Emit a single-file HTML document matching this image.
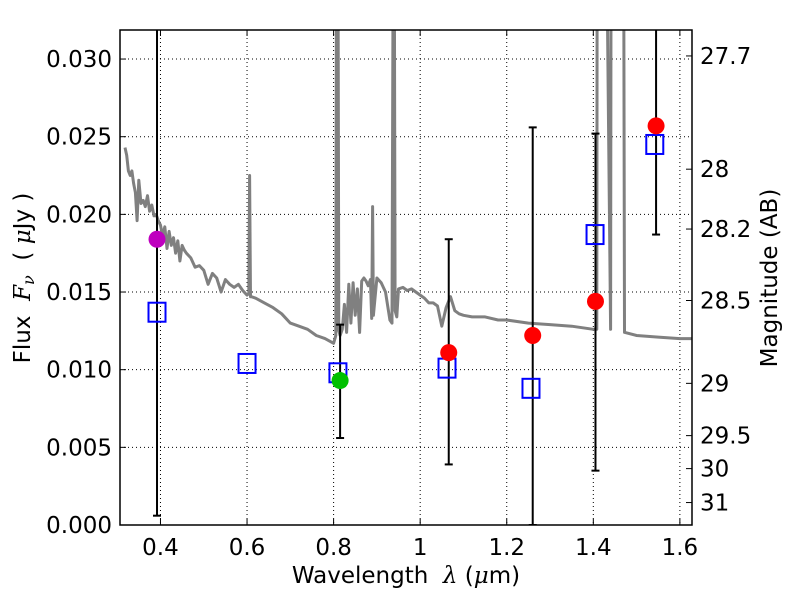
<!DOCTYPE html>
<html><head><meta charset="utf-8"><style>
body{margin:0;background:#fff;}
svg{display:block;font-family:"DejaVu Sans","Liberation Sans",sans-serif;}
</style></head><body>
<svg id="chart" width="800" height="600"></svg>
<script>
const specX=[0.318,0.322,0.326,0.33,0.334,0.338,0.342,0.346,0.35,0.355,0.36,0.365,0.37,0.375,0.38,0.385,0.39,0.395,0.4,0.405,0.41,0.415,0.42,0.425,0.43,0.435,0.44,0.445,0.45,0.455,0.46,0.47,0.48,0.49,0.5,0.51,0.52,0.53,0.54,0.55,0.56,0.57,0.58,0.59,0.6,0.604,0.606,0.608,0.61,0.62,0.64,0.66,0.68,0.7,0.72,0.74,0.76,0.78,0.8,0.805,0.807,0.81,0.812,0.815,0.82,0.825,0.83,0.835,0.84,0.845,0.85,0.855,0.86,0.865,0.87,0.875,0.88,0.885,0.888,0.89,0.892,0.9,0.91,0.92,0.93,0.935,0.938,0.94,0.942,0.946,0.95,0.96,0.97,0.98,0.99,1.0,1.01,1.02,1.03,1.04,1.05,1.06,1.07,1.08,1.09,1.1,1.12,1.15,1.18,1.2,1.25,1.3,1.35,1.4,1.408,1.409,1.43,1.44,1.441,1.444,1.45,1.47,1.472,1.473,1.5,1.55,1.6,1.628];
const specY=[0.0243,0.0238,0.0228,0.0225,0.0228,0.022,0.0214,0.0196,0.0222,0.0207,0.0209,0.0205,0.0212,0.0202,0.0206,0.0199,0.0200,0.0196,0.0193,0.0186,0.0192,0.0178,0.0189,0.0180,0.0185,0.0175,0.0183,0.0170,0.0180,0.0177,0.0175,0.0172,0.0166,0.0167,0.0164,0.0155,0.0162,0.0159,0.0150,0.0158,0.0155,0.0153,0.0155,0.0151,0.0148,0.0149,0.0225,0.0147,0.0147,0.0146,0.0143,0.0140,0.0136,0.0130,0.0128,0.0126,0.0122,0.0120,0.0117,0.0122,0.04,0.04,0.0125,0.0122,0.0126,0.0142,0.0124,0.0155,0.0130,0.0156,0.0135,0.0152,0.0124,0.0157,0.0159,0.0157,0.0154,0.0158,0.0133,0.0205,0.0135,0.0159,0.0156,0.0150,0.0132,0.0130,0.04,0.04,0.0138,0.0134,0.0152,0.0153,0.0151,0.0152,0.0150,0.0148,0.0146,0.0143,0.0143,0.0141,0.0128,0.0140,0.0147,0.0138,0.0136,0.0135,0.0134,0.0134,0.0132,0.0132,0.0130,0.0129,0.0128,0.0126,0.0126,0.04,0.04,0.0126,0.04,0.04,0.04,0.04,0.0124,0.0124,0.0122,0.0121,0.0120,0.0120];
const sqX=[0.392,0.6,0.81,1.062,1.256,1.404,1.542];
const sqY=[0.0137,0.0104,0.0098,0.0101,0.0088,0.0187,0.0245];
const ptX=[0.392,0.815,1.066,1.26,1.405,1.545];
const ptY=[0.0184,0.0093,0.0111,0.0122,0.0144,0.0257];
const ptLo=[0.0006,0.0056,0.0039,0.0,0.0035,0.0187];
const ptHi=[0.04,0.0129,0.0184,0.0256,0.0252,0.04];
const ptColor=['#bf00bf','#00c000','red','red','red','red'];
const xTicks=[0.4,0.6,0.8,1.0,1.2,1.4,1.6];
const xTickLabels=['0.4','0.6','0.8','1','1.2','1.4','1.6'];
const yTicks=[0,0.005,0.01,0.015,0.02,0.025,0.03];
const yTickLabels=['0.000','0.005','0.010','0.015','0.020','0.025','0.030'];
const magTicks=[27.7,28,28.2,28.5,29,29.5,30,31];
const magTickLabels=['27.7','28','28.2','28.5','29','29.5','30','31'];

const NS='http://www.w3.org/2000/svg';
const svg=document.getElementById('chart');
const L=120,R=692,T=30,B=525;
const X0=0.3065,X1=1.628,Y0=0,Y1=0.03187;
const FS=23;
const sx=v=>L+(v-X0)/(X1-X0)*(R-L);
const sy=v=>B-(v-Y0)/(Y1-Y0)*(B-T);
function mk(tag,attrs,parent){const e=document.createElementNS(NS,tag);for(const k in attrs)e.setAttribute(k,attrs[k]);(parent||svg).appendChild(e);return e;}
const defs=mk('defs',{});
const cp=mk('clipPath',{id:'clip'},defs);mk('rect',{x:L,y:T,width:R-L,height:B-T},cp);

const grid=mk('g',{});


xTicks.forEach(v=>{mk('line',{x1:sx(v),x2:sx(v),y1:T,y2:B,stroke:'#000','stroke-width':1,'stroke-dasharray':'1,3'},grid);});
yTicks.forEach(v=>{mk('line',{x1:L,x2:R,y1:sy(v),y2:sy(v),stroke:'#000','stroke-width':1,'stroke-dasharray':'1,3'},grid);});

const plot=mk('g',{'clip-path':'url(#clip)'});
let d='';specX.forEach((x,i)=>{d+=(i?'L':'M')+sx(x).toFixed(1)+','+sy(specY[i]).toFixed(1);});
const sp=mk('path',{d:d,fill:'none',stroke:'#808080','stroke-width':3,'stroke-linejoin':'round'},plot);


ptX.forEach((x,i)=>{
 const g=mk('g',{},plot);
 
 
 const X=sx(x);
 mk('line',{x1:X,x2:X,y1:sy(ptLo[i]),y2:sy(ptHi[i]),stroke:'#000','stroke-width':2},g);
 [ptLo[i],ptHi[i]].forEach(v=>mk('line',{x1:X-4,x2:X+4,y1:sy(v),y2:sy(v),stroke:'#000','stroke-width':2},g));
});
sqX.forEach((x,i)=>{
 const r=mk('rect',{x:sx(x)-8.5,y:sy(sqY[i])-9.5,width:17,height:19,fill:'none',stroke:'#0000ff','stroke-width':2},plot);
 
 
});
ptX.forEach((x,i)=>{
 const c=mk('circle',{cx:sx(x),cy:sy(ptY[i]),r:8.5,fill:ptColor[i]},plot);
 
 
});

const fr=mk('rect',{x:L,y:T,width:R-L,height:B-T,fill:'none',stroke:'#000','stroke-width':1.5});


xTicks.forEach((v,i)=>{
 mk('line',{x1:sx(v),x2:sx(v),y1:B,y2:B-6,stroke:'#000'});
 mk('line',{x1:sx(v),x2:sx(v),y1:T,y2:T+6,stroke:'#000'});
 const t=mk('text',{x:sx(v),y:B+30,'font-size':FS,'text-anchor':'middle'});t.textContent=xTickLabels[i];
 
 
});
yTicks.forEach((v,i)=>{
 mk('line',{x1:L,x2:L+6,y1:sy(v),y2:sy(v),stroke:'#000'});
 const t=mk('text',{x:L-8,y:sy(v)+8,'font-size':FS,'text-anchor':'end'});t.textContent=yTickLabels[i];
 
 
});
magTicks.forEach((m,i)=>{
 const f=Math.pow(10,(23.9-m)/2.5);const y=sy(f);
 mk('line',{x1:R,x2:R-6,y1:y,y2:y,stroke:'#000'});
 const t=mk('text',{x:R+8,y:y+8,'font-size':FS});t.textContent=magTickLabels[i];
 
 
});
const xt=mk('text',{x:406,y:583,'font-size':FS,'text-anchor':'middle'});
xt.innerHTML='Wavelength\u00a0\u00a0<tspan font-family="DejaVu Serif" font-style="italic">λ</tspan> (<tspan font-family="DejaVu Serif" font-style="italic">μ</tspan>m)';


const yt=mk('text',{x:0,y:0,'font-size':FS,'text-anchor':'middle',transform:'translate(30,278) rotate(-90)'});
yt.innerHTML='Flux\u00a0\u00a0<tspan font-family="DejaVu Serif" font-style="italic">F<tspan font-size="16" dy="4">ν</tspan></tspan><tspan dy="-4">\u00a0\u00a0(\u00a0</tspan><tspan font-family="DejaVu Serif" font-style="italic">μ</tspan>Jy\u00a0)';


const rt=mk('text',{x:0,y:0,'font-size':FS,'text-anchor':'middle',transform:'translate(777,278) rotate(-90)'});
rt.textContent='Magnitude (AB)';


</script>
</body></html>
